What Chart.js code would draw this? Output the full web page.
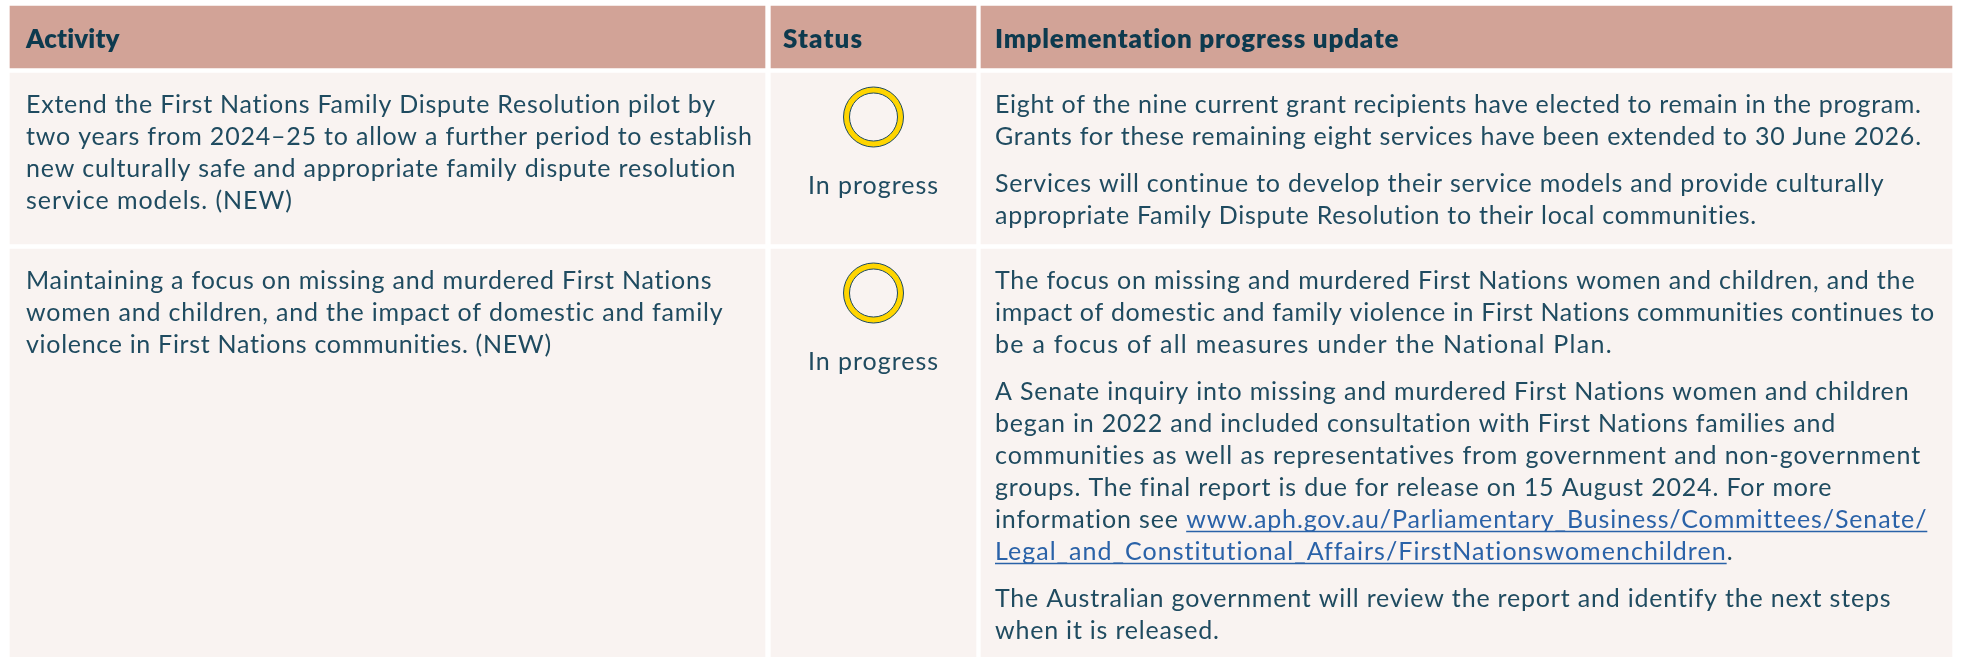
<!DOCTYPE html>
<html lang="en">
<head>
<meta charset="utf-8">
<title>Implementation progress</title>
<script src="https://cdn.jsdelivr.net/npm/chart.js@4/dist/chart.umd.min.js"></script>
<style>
  html, body { margin: 0; padding: 0; background: #fff; }
  canvas { display: block; }
</style>
</head>
<body>
<canvas id="tabela" width="1961" height="657"></canvas>
<script>
// ================= TABLE CONTENT =================
const headers = ['Activity', 'Status', 'Implementation progress update'];
const statusLabels = ['In progress', 'In progress'];

const activityLines = [
  ['Extend the First Nations Family Dispute Resolution pilot by',
   'two years from 2024–25 to allow a further period to establish',
   'new culturally safe and appropriate family dispute resolution',
   'service models. (NEW)'],
  ['Maintaining a focus on missing and murdered First Nations',
   'women and children, and the impact of domestic and family',
   'violence in First Nations communities. (NEW)']
];

const updateParagraphs = [
  [['Eight of the nine current grant recipients have elected to remain in the program.',
    'Grants for these remaining eight services have been extended to 30 June 2026.'],
   ['Services will continue to develop their service models and provide culturally',
    'appropriate Family Dispute Resolution to their local communities.']],
  [['The focus on missing and murdered First Nations women and children, and the',
    'impact of domestic and family violence in First Nations communities continues to',
    'be a focus of all measures under the National Plan.'],
   ['A Senate inquiry into missing and murdered First Nations women and children',
    'began in 2022 and included consultation with First Nations families and',
    'communities as well as representatives from government and non-government',
    'groups. The final report is due for release on 15 August 2024. For more',
    'information see www.aph.gov.au/Parliamentary_Business/Committees/Senate/',
    'Legal_and_Constitutional_Affairs/FirstNationswomenchildren.'],
   ['The Australian government will review the report and identify the next steps',
    'when it is released.']]
];

const linkParts = [
  'www.aph.gov.au/Parliamentary_Business/Committees/Senate/',
  'Legal_and_Constitutional_Affairs/FirstNationswomenchildren'
];

// ================= LAYOUT =================
const colEdges = [[10, 765], [771, 976], [981, 1952]];
const rowEdges = [[6, 68], [73, 244], [249, 657]];
const textLeft = [26, 783, 995];
const lineHeight = 32;
const paragraphGap = 15;

// Right end of each line: the original font is not installed, so the
// letter spacing of each line is adjusted until it ends in the same place
const headerRight = [120, 862, 1399];
const activityRight = [[716, 752, 736, 292], [712, 723, 552]];
const updateRight = [
  [[1921, 1921], [1884, 1757]],
  [[1915, 1936, 1612], [1909, 1836, 1921, 1831, 1926, 1733], [1891, 1219]]
];
const statusWidth = 130;

const fontBody = '25px Lato';
const fontHead = '800 26px Lato';

const corTexto = '#1f4b60';
const corTitulo = '#0d3a4e';
const corLink = '#2a62a8';
const corHeader = '#d2a397';
const corCelula = '#f9f3f1';

// One bar dataset per column, one floating bar per row
const cellDatasets = colEdges.map(edges => ({
  type: 'bar',
  order: 3,
  grouped: false,
  barThickness: edges[1] - edges[0],
  borderWidth: 0,
  backgroundColor: ctx => ctx.dataIndex === 0 ? corHeader : corCelula,
  data: rowEdges.map(row => ({ x: (edges[0] + edges[1]) / 2, y: row }))
}));

// Status rings sit near the top of each data row
const statusCenterX = (colEdges[1][0] + colEdges[1][1]) / 2;
const ringPoints = statusLabels.map((_, i) => ({ x: statusCenterX, y: rowEdges[i + 1][0] + 44 }));

const ringDatasets = [
  { type: 'scatter', order: 2, data: ringPoints, pointRadius: 30, pointHoverRadius: 30,
    backgroundColor: '#ffd500', borderColor: '#1f4b60', borderWidth: 1 },
  { type: 'scatter', order: 1, data: ringPoints, pointRadius: 24, pointHoverRadius: 24,
    backgroundColor: corCelula, borderColor: '#1f4b60', borderWidth: 1 }
];

// ================= TEXT PLUGIN =================
// Letter spacing that makes a text take the given width
function ajustaEspaco(ctx, texto, font, largura) {
  ctx.font = font;
  ctx.letterSpacing = '0px';
  const natural = ctx.measureText(texto).width;
  return ((largura - natural) / (texto.length - 1)).toFixed(3) + 'px';
}

function escreve(ctx, texto, x, y, font, spacing, cor, align) {
  ctx.font = font;
  ctx.letterSpacing = spacing;
  ctx.fillStyle = cor;
  ctx.textAlign = align || 'left';
  ctx.textBaseline = 'alphabetic';
  ctx.fillText(texto, x, y);
}

// Writes a line, pulling out any piece of it that is a link
function escreveLinha(ctx, linha, x, y, direita) {
  const spacing = ajustaEspaco(ctx, linha, fontBody, direita - x);
  const parte = linkParts.find(p => linha.includes(p));
  if (!parte) {
    escreve(ctx, linha, x, y, fontBody, spacing, corTexto);
    return;
  }
  const inicio = linha.indexOf(parte);
  const antes = linha.slice(0, inicio);
  const depois = linha.slice(inicio + parte.length);
  ctx.font = fontBody;
  ctx.letterSpacing = spacing;
  const xLink = x + ctx.measureText(antes).width;
  const largura = ctx.measureText(parte).width;
  if (antes) escreve(ctx, antes, x, y, fontBody, spacing, corTexto);
  escreve(ctx, parte, xLink, y, fontBody, spacing, corLink);
  if (depois) escreve(ctx, depois, xLink + largura, y, fontBody, spacing, corTexto);
  ctx.strokeStyle = corLink;
  ctx.lineWidth = 1.5;
  ctx.beginPath();
  ctx.moveTo(xLink, y + 3.5);
  ctx.lineTo(xLink + largura, y + 3.5);
  ctx.stroke();
}

const textoTabela = {
  id: 'textoTabela',
  afterDatasetsDraw(chart) {
    const { ctx, scales } = chart;
    const px = v => scales.x.getPixelForValue(v);
    const py = v => scales.y.getPixelForValue(v);
    ctx.save();

    // Header row
    headers.forEach((h, i) => {
      const spacing = ajustaEspaco(ctx, h, fontHead, headerRight[i] - textLeft[i]);
      escreve(ctx, h, px(textLeft[i]), py(48), fontHead, spacing, corTitulo);
    });

    // Data rows
    activityLines.forEach((linhas, r) => {
      const topo = rowEdges[r + 1][0];
      linhas.forEach((linha, i) => {
        escreveLinha(ctx, linha, px(textLeft[0]), py(topo + 40 + i * lineHeight), px(activityRight[r][i]));
      });

      const spacingStatus = ajustaEspaco(ctx, statusLabels[r], fontBody, statusWidth);
      escreve(ctx, statusLabels[r], px(statusCenterX), py(topo + 121), fontBody, spacingStatus, corTexto, 'center');

      let y = topo + 40;
      updateParagraphs[r].forEach((par, p) => {
        par.forEach((linha, i) => {
          escreveLinha(ctx, linha, px(textLeft[2]), py(y), px(updateRight[r][p][i]));
          y += lineHeight;
        });
        y += paragraphGap;
      });
    });

    ctx.restore();
  }
};

// ================= CHART =================
new Chart(document.getElementById('tabela').getContext('2d'), {
  data: { datasets: [...ringDatasets, ...cellDatasets] },
  options: {
    responsive: false,
    animation: false,
    layout: { padding: 0, autoPadding: false },
    plugins: { legend: { display: false }, tooltip: { enabled: false } },
    scales: {
      x: { type: 'linear', min: 0, max: 1961, offset: false, display: false },
      y: { type: 'linear', min: 0, max: 657, reverse: true, display: false }
    }
  },
  plugins: [textoTabela]
});
</script>
</body>
</html>
